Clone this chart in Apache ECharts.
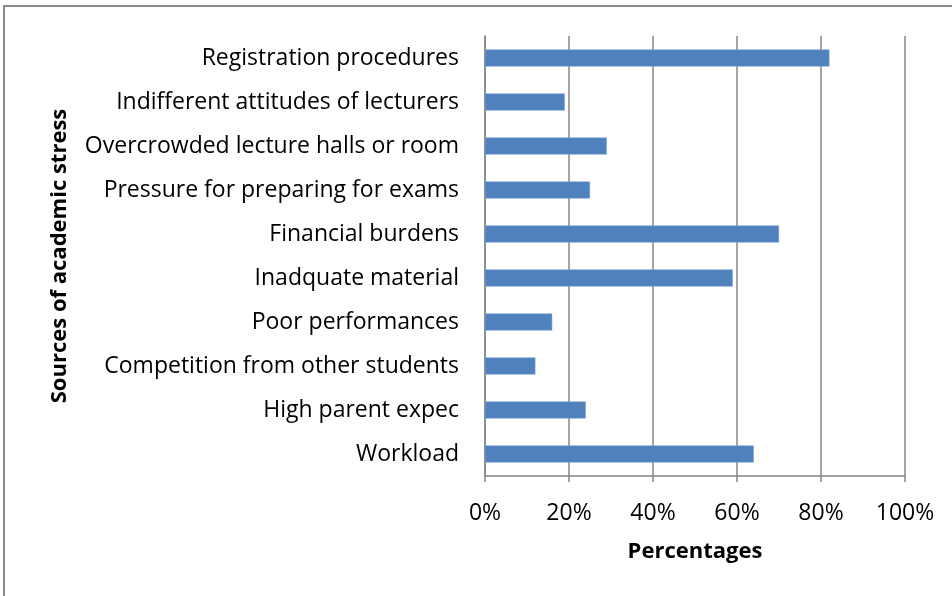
<!DOCTYPE html>
<html>
<head>
<meta charset="utf-8">
<script src="https://cdn.jsdelivr.net/npm/echarts@6/dist/echarts.min.js"></script>
<style>
  html, body { margin: 0; padding: 0; background: #fff; }
  #chart { width: 952px; height: 596px; }
</style>
</head>
<body>
<div id="chart"></div>
<script>
// categories listed bottom to top (category axis starts at the bottom)
const categories = [
  'Workload',
  'High parent expec',
  'Competition from other students',
  'Poor performances',
  'Inadquate material',
  'Financial burdens',
  'Pressure for preparing for exams',
  'Overcrowded lecture halls or room',
  'Indifferent attitudes of lecturers',
  'Registration procedures'
]
const values = [64, 24, 12, 16, 59, 70, 25, 29, 19, 82]
const xTicks = [0, 20, 40, 60, 80, 100]

const font = '"Open Sans", sans-serif'
const chart = echarts.init(document.getElementById('chart'))

chart.setOption({
  animation: false,
  grid: { left: 485, right: 47, top: 36, bottom: 120 },
  graphic: [
    {
      type: 'rect',
      shape: { x: 4, y: 6, width: 960, height: 600 },
      style: { fill: 'none', stroke: '#898989', lineWidth: 2 }
    }
  ],
  xAxis: {
    type: 'value',
    min: xTicks[0],
    max: xTicks[xTicks.length - 1],
    interval: 20,
    name: 'Percentages',
    nameLocation: 'middle',
    nameGap: 65,
    nameTextStyle: { fontFamily: font, fontSize: 22, fontWeight: 'bold', color: '#000' },
    axisLine: { show: true, lineStyle: { color: '#868686', width: 1.5 } },
    axisTick: { show: true, length: 6, lineStyle: { color: '#868686', width: 1.5 } },
    axisLabel: {
      fontFamily: font, fontSize: 23, color: '#000', margin: 26,
      formatter: v => v + '%'
    },
    splitLine: { show: true, lineStyle: { color: '#868686', width: 1.5 } }
  },
  yAxis: {
    type: 'category',
    data: categories,
    name: 'Sources of academic stress',
    nameLocation: 'middle',
    nameGap: 414,
    nameRotate: 90,
    nameTextStyle: { fontFamily: font, fontSize: 22, fontWeight: 'bold', color: '#000' },
    axisLine: { show: true, lineStyle: { color: '#868686', width: 1.5 } },
    axisTick: { show: false },
    axisLabel: { fontFamily: font, fontSize: 23, color: '#000', margin: 26 }
  },
  series: [
    {
      type: 'bar',
      data: values,
      barWidth: 17,
      itemStyle: { color: '#4f81bd', borderColor: '#7a9fd0', borderWidth: 0.5 }
    }
  ]
})
</script>
</body>
</html>
